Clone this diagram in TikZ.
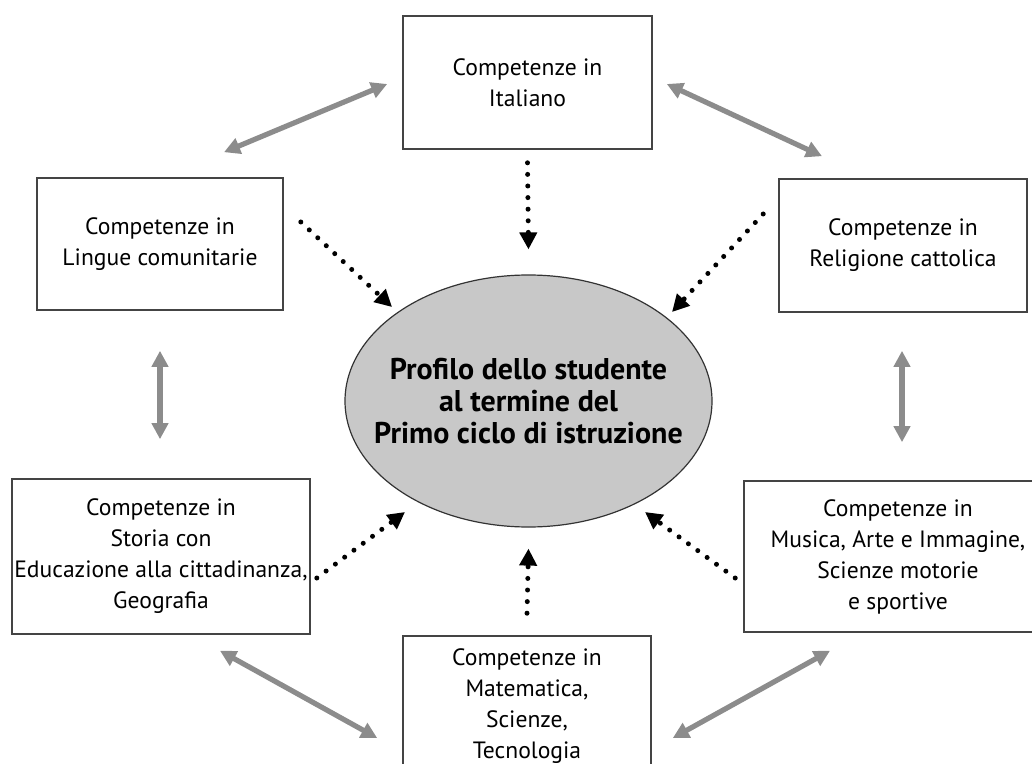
\documentclass[tikz,border=0pt]{standalone}
\usepackage{fontspec}
\setmainfont{PT Sans}
\usepackage{xcolor}
\usepackage{tikz}
\usetikzlibrary{positioning,arrows.meta,shapes.geometric}

\definecolor{boxline}{HTML}{444444}
\definecolor{linkgray}{HTML}{8C8C8C}
\definecolor{profilefill}{HTML}{C8C8C8}

\begin{document}
\begin{tikzpicture}[x=0.5pt, y=-0.5pt,
    subject/.style={draw=boxline, line width=0.8pt, fill=white, align=center,
        font=\fontsize{11.8}{15.5}\selectfont, inner sep=0pt},
    profile/.style={ellipse, draw=black!80, line width=0.6pt, fill=profilefill,
        align=center, inner xsep=-16pt, inner ysep=0pt, font=\bfseries\fontsize{15}{16}\selectfont},
    linkarrow/.style={linkgray, line width=2.6pt, {Triangle[length=8pt, width=8pt]}-{Triangle[length=8pt, width=8pt]}},
    feedarrow/.style={black, line width=2.5pt, line cap=round, dash pattern=on 0pt off 5.8pt,
        -{Triangle[length=8.5pt, width=8.5pt]}}]
\useasboundingbox (0,0) rectangle (1032,764);
\clip (0,0) rectangle (1032,764);

\node[profile, minimum width=183.5pt, minimum height=126pt] (profilo) at (528.5,401)
    {Profilo dello studente\\al termine del\\Primo ciclo di istruzione};

\node[subject, minimum width=124.5pt, minimum height=66.5pt] (italiano) at (527.5,82.5)
    {Competenze in\\Italiano};
\node[subject, minimum width=123pt, minimum height=66pt] (lingue) at (160,244)
    {Competenze in\\Lingue comunitarie};
\node[subject, minimum width=124pt, minimum height=66.5pt] (religione) at (903,245.5)
    {Competenze in\\Religione cattolica};
\node[subject, minimum width=149pt, minimum height=77.5pt] (storia) at (161,556.5)
    {Competenze in\\Storia con\\Educazione alla cittadinanza,\\Geografia};
\node[subject, minimum width=154pt, minimum height=75.5pt] (musica) at (898,556.5)
    {Competenze in\\Musica, Arte e Immagine,\\Scienze motorie\\e sportive};
\node[subject, minimum width=124pt, minimum height=70pt] (matematica) at (527,706)
    {Competenze in\\Matematica,\\Scienze,\\Tecnologia};

% links between the subject boxes
\draw[linkarrow] ([shift={(-15,1.5)}]italiano.west) -- ([shift={(64,-25)}]lingue.north);
\draw[linkarrow] ([shift={(14,1.5)}]italiano.east) -- ([shift={(-81,-22)}]religione.north);
\draw[linkarrow] ([shift={(0,40)}]lingue.south) -- ([shift={(-1,-39)}]storia.north);
\draw[linkarrow] ([shift={(-1,38)}]religione.south) -- ([shift={(4,-38)}]musica.north);
\draw[linkarrow] ([shift={(59,16)}]storia.south) -- ([shift={(-25,32)}]matematica.west);
\draw[linkarrow] ([shift={(21,32)}]matematica.east) -- ([shift={(-68,18)}]musica.south);

% every subject feeds the profile
\draw[feedarrow] ([shift={(0,13)}]italiano.south) -- ([shift={(0,-25)}]profilo.north);
\draw[feedarrow] ([shift={(17,-22)}]lingue.east) -- ([shift={(-136.5,-94)}]profilo.center);
\draw[feedarrow] ([shift={(-15,-31.5)}]religione.west) -- ([shift={(143.5,-89)}]profilo.center);
\draw[feedarrow] ([shift={(6,21.5)}]storia.east) -- ([shift={(-123.5,111)}]profilo.center);
\draw[feedarrow] ([shift={(-8,21.5)}]musica.west) -- ([shift={(116.5,111)}]profilo.center);
\draw[feedarrow] ([shift={(0,-22)}]matematica.north) -- ([shift={(0,21)}]profilo.south);

\end{tikzpicture}
\end{document}
